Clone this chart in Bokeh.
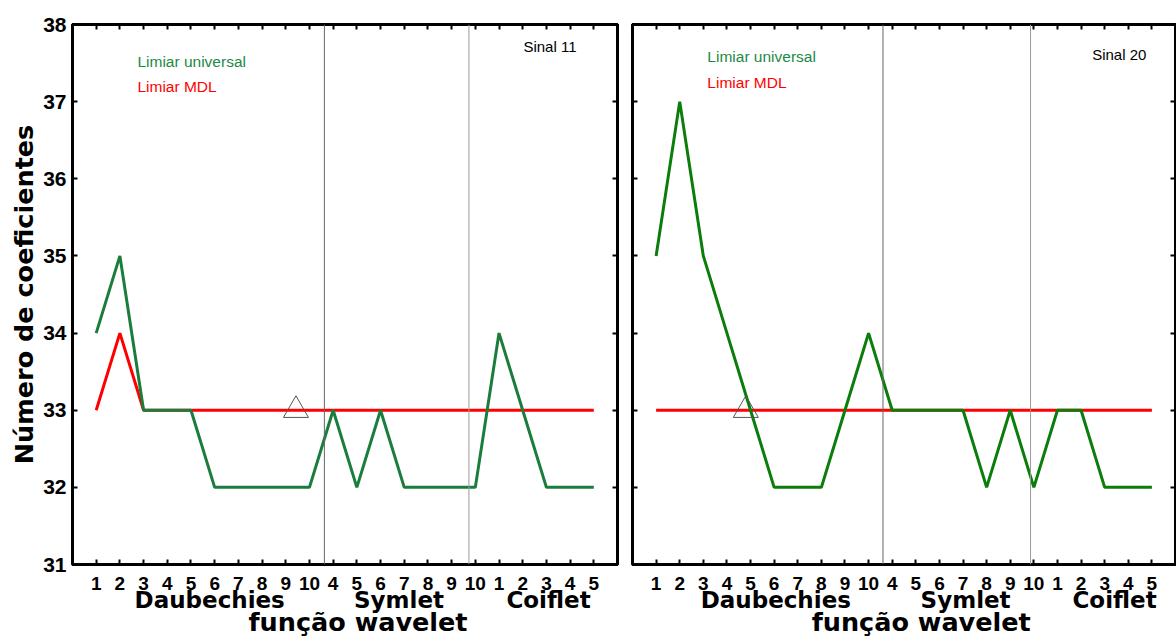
from bokeh.plotting import figure
from bokeh.models import Range1d, LinearAxis, FixedTicker, Span, Label
from bokeh.layouts import row
from bokeh.embed import file_html
from bokeh.resources import INLINE

# ---------------- data ----------------
positions = [1, 2, 3, 4, 5, 6, 7, 8, 9, 10, 11, 12, 13, 14, 15, 16, 17, 18, 19, 20, 21, 22]
tick_labels = ["1", "2", "3", "4", "5", "6", "7", "8", "9", "10",
               "4", "5", "6", "7", "8", "9", "10",
               "1", "2", "3", "4", "5"]
families = ["Daubechies", "Symlet", "Coiflet"]
y_ticks = [31, 32, 33, 34, 35, 36, 37, 38]

s11_universal = [34, 35, 33, 33, 33, 32, 32, 32, 32, 32, 33, 32, 33, 32, 32, 32, 32, 34, 33, 32, 32, 32]
s11_mdl = [33, 34, 33, 33, 33, 33, 33, 33, 33, 33, 33, 33, 33, 33, 33, 33, 33, 33, 33, 33, 33, 33]
s11_marker_x = [9.43]
s11_marker_y = [33]

s20_universal = [35, 37, 35, 34, 33, 32, 32, 32, 33, 34, 33, 33, 33, 33, 32, 33, 32, 33, 33, 32, 32, 32]
s20_mdl = [33, 33, 33, 33, 33, 33, 33, 33, 33, 33, 33, 33, 33, 33, 33, 33, 33, 33, 33, 33, 33, 33]
s20_marker_x = [4.8]
s20_marker_y = [33]

FONT = "Liberation Sans"
TITLE_FONT = "DejaVu Sans"
GREEN_TXT = "#1e8a46"
RED = "#ff0000"


def style_axis(ax):
    ax.axis_line_color = "black"
    ax.axis_line_width = 3
    ax.major_tick_line_color = "black"
    ax.major_tick_line_width = 2
    ax.major_tick_in = 5
    ax.major_tick_out = 0
    ax.minor_tick_line_color = None
    ax.major_label_text_color = "black"
    ax.major_label_text_font = FONT
    ax.major_label_text_font_style = "bold"


def text_axis(ticks, labels, size, standoff):
    ax = LinearAxis(ticker=FixedTicker(ticks=ticks, minor_ticks=[]),
                    major_label_overrides={t: l for t, l in zip(ticks, labels)},
                    major_label_standoff=standoff)
    ax.axis_line_color = None
    ax.major_tick_line_color = None
    ax.minor_tick_line_color = None
    ax.major_tick_in = 0
    ax.major_tick_out = 0
    ax.major_label_text_color = "black"
    ax.major_label_text_font = TITLE_FONT
    ax.major_label_text_font_style = "bold"
    ax.major_label_text_font_size = size
    return ax


def make_panel(width, ml, mr, universal, mdl, mk_x, mk_y, seps, fam_x, xlabel_x,
               legend_x, legend_y, sinal_text, sinal_x, sinal_y, green, show_ylabels):
    p = figure(width=width, height=639, x_range=Range1d(0, 23), y_range=Range1d(31, 38),
               output_backend="svg", toolbar_location=None,
               min_border_left=ml, min_border_right=mr, min_border_top=24, min_border_bottom=75,
               background_fill_color="white", border_fill_color="white")
    p.xgrid.visible = False
    p.ygrid.visible = False
    p.outline_line_color = "black"
    p.outline_line_width = 3

    # bottom axis
    xa = p.xaxis[0]
    style_axis(xa)
    xa.ticker = FixedTicker(ticks=positions, minor_ticks=[])
    xa.major_label_overrides = {pos: lab for pos, lab in zip(positions, tick_labels)}
    xa.major_label_text_font_size = "19px"
    xa.major_label_standoff = 12

    # left axis
    ya = p.yaxis[0]
    style_axis(ya)
    ya.ticker = FixedTicker(ticks=y_ticks, minor_ticks=[])
    ya.major_label_text_font_size = "21px"
    if show_ylabels:
        ya.major_label_standoff = 6
        ya.axis_label = "Número de coeficientes"
        ya.axis_label_text_font = TITLE_FONT
        ya.axis_label_text_font_style = "bold"
        ya.axis_label_text_font_size = "25.5px"
        ya.axis_label_text_color = "black"
        ya.axis_label_standoff = 1
    else:
        ya.major_label_overrides = {v: "" for v in y_ticks}
        ya.major_label_standoff = 0

    top = LinearAxis(ticker=FixedTicker(ticks=positions, minor_ticks=[]),
                     major_label_overrides={v: "" for v in positions}, major_label_standoff=0)
    right = LinearAxis(ticker=FixedTicker(ticks=y_ticks, minor_ticks=[]),
                       major_label_overrides={v: "" for v in y_ticks}, major_label_standoff=0)
    style_axis(top)
    style_axis(right)
    p.add_layout(top, "above")
    p.add_layout(right, "right")

    # family names and x title as extra label-only axes
    p.add_layout(text_axis(fam_x, families, "23px", -6), "below")
    p.add_layout(text_axis([xlabel_x], ["função wavelet"], "25.5px", -9), "below")

    for s, c in seps:
        p.add_layout(Span(location=s, dimension="height", line_color=c, line_width=1))

    p.line(positions, mdl, line_color=RED, line_width=3)
    p.line(positions, universal, line_color=green, line_width=3)
    p.scatter(mk_x, mk_y, marker="triangle", size=25, fill_color=None,
              line_color="#555555", line_width=1)

    # legend-like texts
    p.add_layout(Label(x=legend_x, y=legend_y[0], text="Limiar universal", text_align="left",
                       text_baseline="alphabetic", text_font=FONT, text_font_size="15.5px",
                       text_color=GREEN_TXT))
    p.add_layout(Label(x=legend_x, y=legend_y[1], text="Limiar MDL", text_align="left",
                       text_baseline="alphabetic", text_font=FONT, text_font_size="15.5px",
                       text_color=RED))
    p.add_layout(Label(x=sinal_x, y=sinal_y, text=sinal_text, text_align="left",
                       text_baseline="alphabetic", text_font=FONT, text_font_size="15px",
                       text_color="black"))
    return p


p1 = make_panel(621, 72, 4, s11_universal, s11_mdl, s11_marker_x, s11_marker_y,
                [(10.63, "#666666"), (16.73, "#9a9a9a")],
                [5.79, 13.78, 20.09], 12.05,
                2.74, [37.52, 37.19], "Sinal 11", 19.03, 37.72, "#1b7d3c", True)

p2 = make_panel(555, 11, 1, s20_universal, s20_mdl, s20_marker_x, s20_marker_y,
                [(10.61, "#666666"), (16.86, "#9a9a9a")],
                [6.07, 14.11, 20.42], 12.23,
                3.17, [37.59, 37.25], "Sinal 20", 19.47, 37.61, "#0b7d0b", False)

layout = row(p1, p2)
open("out.html", "w").write(file_html(layout, INLINE))
